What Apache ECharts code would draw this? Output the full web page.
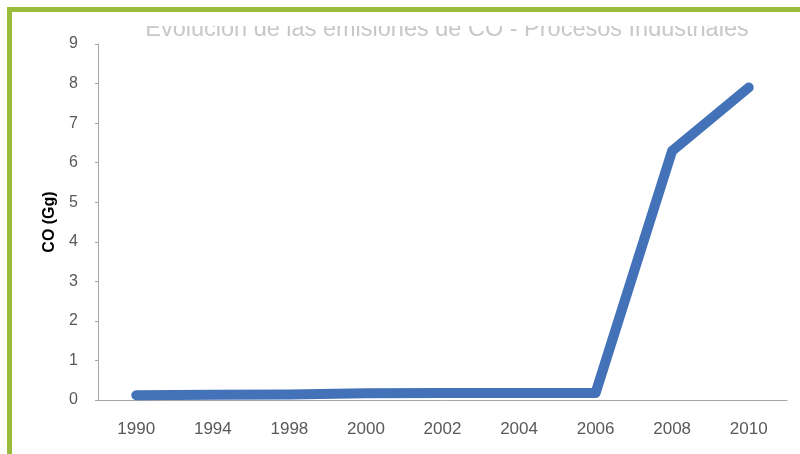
<!DOCTYPE html>
<html>
<head>
<meta charset="utf-8">
<script src="https://cdn.jsdelivr.net/npm/echarts@6/dist/echarts.min.js"></script>
<style>html,body{margin:0;padding:0;background:#fff}#c{width:800px;height:454px}</style>
</head>
<body>
<div id="c"></div>
<script>
const years = ['1990','1994','1998','2000','2002','2004','2006','2008','2010'];
const coValues = [0.12, 0.13, 0.14, 0.17, 0.18, 0.18, 0.18, 6.3, 7.9];
const titleText = 'Evolución de las emisiones de CO - Procesos Industriales';
const yAxisName = 'CO (Gg)';

const chart = echarts.init(document.getElementById('c'), null, {renderer: 'canvas'});
chart.setOption({
  backgroundColor: '#ffffff',
  animation: false,
  title: {
    text: titleText,
    left: 442,
    textAlign: 'center',
    top: 13,
    textStyle: {fontFamily: 'Liberation Sans', fontSize: 23.5, fontWeight: 'normal', color: '#c8c8c8'}
  },
  grid: {left: 98, right: 13, top: 44, bottom: 54},
  xAxis: {
    type: 'category',
    data: years,
    boundaryGap: true,
    axisLine: {lineStyle: {color: '#a6a6a6', width: 1}},
    axisTick: {show: false},
    axisLabel: {color: '#595959', fontFamily: 'Liberation Sans', fontSize: 17, margin: 21}
  },
  yAxis: {
    type: 'value',
    min: 0, max: 9, interval: 1,
    name: yAxisName,
    nameLocation: 'middle',
    nameRotate: 90,
    nameGap: 40,
    nameTextStyle: {color: '#000', fontFamily: 'Liberation Sans', fontSize: 16, fontWeight: 'bold'},
    axisLine: {show: true, lineStyle: {color: '#a6a6a6', width: 1}},
    axisTick: {show: true, inside: false, length: 3, lineStyle: {color: '#a6a6a6'}},
    splitLine: {show: false},
    axisLabel: {color: '#595959', fontFamily: 'Liberation Sans', fontSize: 16, margin: 20}
  },
  series: [{
    type: 'line',
    data: coValues,
    symbol: 'none',
    lineStyle: {color: '#4472b8', width: 10, cap: 'round', join: 'round'}
  }],
  graphic: [
    {type: 'rect', z: 100, shape: {x: 0, y: 0, width: 800, height: 26}, style: {fill: '#ffffff'}},
    {type: 'rect', z: 101, shape: {x: 7, y: 7, width: 793, height: 5}, style: {fill: '#9bbb3b'}},
    {type: 'rect', z: 101, shape: {x: 7, y: 7, width: 5, height: 447}, style: {fill: '#9bbb3b'}}
  ]
});
</script>
</body>
</html>
